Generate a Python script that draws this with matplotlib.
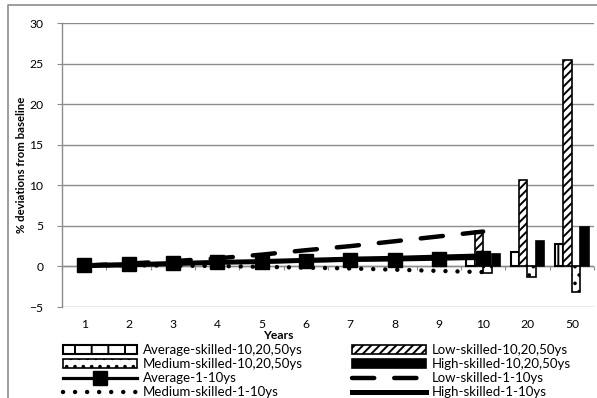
import matplotlib
matplotlib.use("Agg")
import matplotlib.pyplot as plt
import numpy as np
from matplotlib.lines import Line2D

plt.rcParams["font.family"] = ["Lato", "DejaVu Sans"]
plt.rcParams["hatch.linewidth"] = 1.4

years = ["1", "2", "3", "4", "5", "6", "7", "8", "9", "10", "20", "50"]

# bars only for 10, 20, 50 years
bar_years = ["10", "20", "50"]
avg_bars = [0.9, 1.8, 2.8]
low_bars = [4.4, 10.7, 25.5]
med_bars = [-0.8, -1.3, -3.2]
high_bars = [1.5, 3.1, 4.9]

# lines for years 1..10
line_years = ["1", "2", "3", "4", "5", "6", "7", "8", "9", "10"]
avg_line = [0.2, 0.3, 0.4, 0.5, 0.55, 0.65, 0.75, 0.8, 0.9, 1.0]
low_line = [0.1, 0.35, 0.65, 1.0, 1.45, 2.0, 2.5, 3.1, 3.7, 4.3]
med_line = [0.1, 0.15, 0.1, 0.05, -0.05, -0.15, -0.25, -0.4, -0.55, -0.7]
high_line = [0.1, 0.2, 0.35, 0.5, 0.6, 0.75, 0.9, 1.0, 1.15, 1.3]

FS = 8.7
LEG_FS = 9.5

fig = plt.figure(figsize=(5.97, 3.98), dpi=100)
ax = fig.add_axes([62 / 597, (398 - 307) / 398, 532 / 597, 284 / 398])

pos = {y: i for i, y in enumerate(years)}
xb = np.array([pos[y] for y in bar_years])
xl = np.array([pos[y] for y in line_years])
w = 0.19

b1 = ax.bar(xb - 1.5 * w, avg_bars, w, facecolor="white", edgecolor="black",
            hatch="|", linewidth=1.5, zorder=2)
b2 = ax.bar(xb - 0.5 * w, low_bars, w, facecolor="white", edgecolor="black",
            hatch="////", linewidth=1.2, zorder=2)
b3 = ax.bar(xb + 0.5 * w, med_bars, w, facecolor="white", edgecolor="black",
            hatch="..", linewidth=1.2, zorder=2)
b4 = ax.bar(xb + 1.5 * w, high_bars, w, facecolor="black", edgecolor="black",
            linewidth=1.2, zorder=2)

l1, = ax.plot(xl, avg_line, color="black", lw=2.3, marker="s", ms=10,
              zorder=4)
l2, = ax.plot(xl, low_line, color="black", lw=3.2, dashes=(5, 4.5),
              dash_capstyle="round", zorder=4)
l3, = ax.plot(xl, med_line, color="black", lw=3.2, dashes=(0.01, 2.7),
              dash_capstyle="round", zorder=4)
l4, = ax.plot(xl, high_line, color="black", lw=3.6, zorder=3)

ax.set_xlim(-0.5, 11.5)
ax.set_ylim(-5, 30)
ax.set_yticks(np.arange(-5, 31, 5))
ax.yaxis.grid(True, color="#8c8c8c", lw=1.0, zorder=0)
ax.set_axisbelow(True)

for s in ["top", "right", "bottom"]:
    ax.spines[s].set_visible(False)
ax.spines["left"].set_color("#8c8c8c")
ax.spines["left"].set_linewidth(1.0)

ax.set_xticks(range(len(years)))
ax.set_xticklabels(years, fontsize=FS)
ax.tick_params(axis="x", length=0, pad=9)
ax.tick_params(axis="y", length=3.5, color="#8c8c8c", labelsize=FS, pad=10)

# horizontal axis line at zero with category-boundary ticks
ax.axhline(0, color="#8c8c8c", lw=1.0, zorder=1)
sec = ax.secondary_xaxis(5 / 35)
sec.set_xticks(np.arange(-0.5, 12, 1))
sec.set_xticklabels([])
sec.tick_params(axis="x", length=3, color="#8c8c8c", direction="out")
sec.spines["bottom"].set_visible(False)

ax.set_xlabel("Years", fontsize=FS, fontweight="bold")
ax.xaxis.set_label_coords(0.406, -0.08)
ax.set_ylabel("% deviations from baseline", fontsize=8.2, fontweight="bold")
ax.yaxis.set_label_coords(-0.066, 0.5)

handles = [b1, b3, l1, l3, b2, b4, l2, l4]
labels = ["Average-skilled-10,20,50ys", "Medium-skilled-10,20,50ys",
          "Average-1-10ys", "Medium-skilled-1-10ys",
          "Low-skilled-10,20,50ys", "High-skilled-10,20,50ys",
          "Low-skilled-1-10ys", "High-skilled-1-10ys"]
fig.legend(handles, labels, ncol=2, loc="upper left",
           bbox_to_anchor=(63 / 597, 1 - 344 / 398), frameon=False,
           fontsize=LEG_FS, handlelength=5.6, handletextpad=0.45,
           columnspacing=3.7, labelspacing=0.16, borderaxespad=0,
           borderpad=0)

# chart area border
fig.add_artist(Line2D([8 / 597, 8 / 597, 1.0], [0, 1 - 5 / 398, 1 - 5 / 398],
                      transform=fig.transFigure, color="#8c8c8c", lw=1.2))

fig.savefig("out.png", dpi=100)
